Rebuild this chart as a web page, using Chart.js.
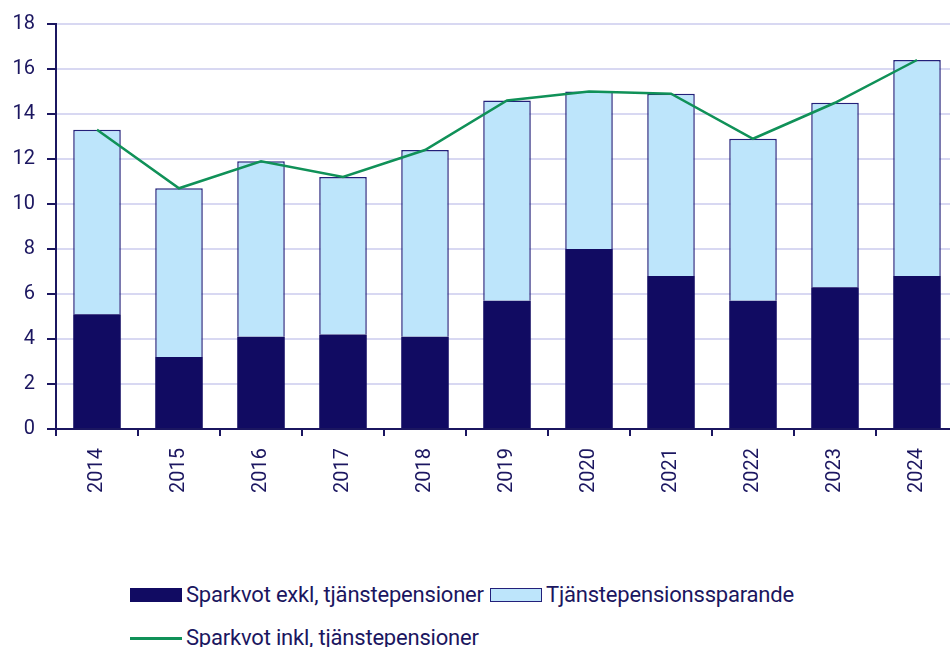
<!DOCTYPE html>
<html>
<head>
<meta charset="utf-8">
<script src="https://cdn.jsdelivr.net/npm/chart.js@4.4.1/dist/chart.umd.min.js"></script>
<style>
  html, body { margin: 0; padding: 0; background: #fff; overflow: hidden; }
  #wrap { position: relative; width: 950px; height: 647px; overflow: hidden; }
  #box { position: absolute; left: 0; top: 0; width: 960px; height: 500px; }
  .txt { position: absolute; font-family: Roboto, sans-serif; font-size: 22px; letter-spacing: -0.2px; color: #1b1660; white-space: nowrap; line-height: 22px; }
  .sw { position: absolute; box-sizing: border-box; }
</style>
</head>
<body>
<div id="wrap">
  <div id="box"><canvas id="chart"></canvas></div>
  <div id="legend"></div>
</div>
<script>
// Sparkvot, procent av disponibel inkomst
const years = ['2014','2015','2016','2017','2018','2019','2020','2021','2022','2023','2024'];
const exklTjp = [5.1, 3.2, 4.1, 4.2, 4.1, 5.7, 8.0, 6.8, 5.7, 6.3, 6.8];
const tjpSparande = [8.2, 7.5, 7.8, 7.0, 8.3, 8.9, 7.0, 8.1, 7.2, 8.2, 9.6];
const inklTjp = [13.3, 10.7, 11.9, 11.2, 12.4, 14.6, 15.0, 14.9, 12.9, 14.5, 16.4];

const navy = '#110b62';
const ink = '#1b1660';
const light = '#bde5fb';
const green = '#109158';

const ctx = document.getElementById('chart').getContext('2d');
const chart = new Chart(ctx, {
  type: 'bar',
  data: {
    labels: years,
    datasets: [
      { type: 'line', label: 'Sparkvot inkl, tjänstepensioner', data: inklTjp,
        borderColor: green, borderWidth: 2.5, pointRadius: 0, tension: 0, order: 0, fill: false },
      { label: 'Sparkvot exkl, tjänstepensioner', data: exklTjp,
        backgroundColor: navy, borderColor: navy, borderWidth: 0, order: 1 },
      { label: 'Tjänstepensionssparande', data: tjpSparande,
        backgroundColor: light, borderColor: '#23207a', borderWidth: 1.5, borderSkipped: 'bottom', order: 2 },
    ]
  },
  options: {
    responsive: true,
    maintainAspectRatio: false,
    animation: false,
    layout: { padding: { top: 23, right: 2, left: 0, bottom: 0 } },
    datasets: { bar: { barPercentage: 0.58, categoryPercentage: 1 } },
    plugins: { legend: { display: false }, tooltip: { enabled: false } },
    scales: {
      x: {
        stacked: true,
        border: { color: ink, width: 2 },
        grid: { drawOnChartArea: false, drawTicks: true, tickLength: 7, tickColor: ink, lineWidth: 2, offset: true },
        ticks: { color: ink, font: { family: 'Roboto', size: 20 }, minRotation: 90, maxRotation: 90, padding: 12 },
        afterFit: (s) => { s.height = 71; }
      },
      y: {
        stacked: true,
        min: 0, max: 18,
        border: { color: ink, width: 2 },
        grid: { color: '#d8d8f2', lineWidth: 2, tickLength: 9, tickColor: ink },
        ticks: { stepSize: 2, color: ink, font: { family: 'Roboto', size: 20 }, padding: 12 },
        afterFit: (s) => { s.width = 56; }
      }
    }
  }
});

// legend laid out like the original (two rows, left aligned)
const ds = chart.data.datasets;
document.getElementById('legend').innerHTML = `
  <div class="sw" style="left:130px; top:588px; width:52px; height:14px; background:${navy}"></div>
  <div class="txt" style="left:186px; top:584px;">${ds[1].label}</div>
  <div class="sw" style="left:490px; top:588px; width:52px; height:14px; background:${light}; border:1.5px solid #23207a"></div>
  <div class="txt" style="left:546px; top:584px;">${ds[2].label}</div>
  <div class="sw" style="left:130px; top:637px; width:52px; height:3px; background:${green}"></div>
  <div class="txt" style="left:186px; top:627px;">${ds[0].label}</div>
`;
</script>
</body>
</html>
